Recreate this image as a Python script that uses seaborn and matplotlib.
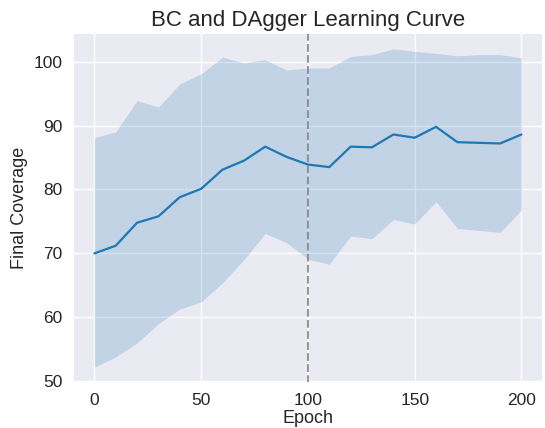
import numpy as np
import pandas as pd
import matplotlib
matplotlib.use("Agg")
import matplotlib.pyplot as plt
import seaborn as sns

epochs = [0, 10, 20, 30, 40, 50, 60, 70, 80, 90, 100, 110, 120, 130, 140, 150, 160, 170, 180, 190, 200]
mean_cov = [70.0, 71.2, 74.8, 75.8, 78.8, 80.1, 83.1, 84.5, 86.7, 85.1, 83.9, 83.5, 86.7, 86.6, 88.6, 88.1, 89.8, 87.4, 87.3, 87.2, 88.6]
upper_cov = [88.1, 89.0, 93.9, 92.9, 96.5, 98.1, 100.7, 99.8, 100.3, 98.7, 99.0, 99.0, 100.8, 101.1, 102.0, 101.6, 101.3, 100.9, 101.1, 101.1, 100.6]
lower_cov = [52.2, 53.8, 56.0, 59.0, 61.3, 62.4, 65.4, 69.0, 73.1, 71.7, 69.1, 68.3, 72.7, 72.3, 75.3, 74.6, 78.1, 73.9, 73.6, 73.3, 76.8]
switch_epoch = 100

df = pd.DataFrame({"Epoch": epochs, "Final Coverage": mean_cov})

sns.set_theme(style="darkgrid")
plt.rcParams["font.family"] = ["Liberation Sans", "DejaVu Sans"]

fig, ax = plt.subplots(figsize=(5.45, 4.28), dpi=100)
fig.subplots_adjust(left=0.134, right=0.996, top=0.923, bottom=0.105)

sns.lineplot(data=df, x="Epoch", y="Final Coverage", ax=ax, color="#1f77b4", linewidth=1.6)
ax.fill_between(epochs, lower_cov, upper_cov, color="#1f77b4", alpha=0.2, linewidth=0)
ax.axvline(switch_epoch, color="gray", linestyle="--", alpha=0.8, linewidth=1.5)

ax.set_title("BC and DAgger Learning Curve", fontsize=16, pad=5)
ax.set_xlabel("Epoch", fontsize=13, labelpad=1)
ax.set_ylabel("Final Coverage", fontsize=13, labelpad=4)
ax.tick_params(labelsize=12.5, pad=1.5)
ax.set_xticks([0, 50, 100, 150, 200])
ax.set_yticks([50, 60, 70, 80, 90, 100])

fig.savefig("out.png", dpi=100)
